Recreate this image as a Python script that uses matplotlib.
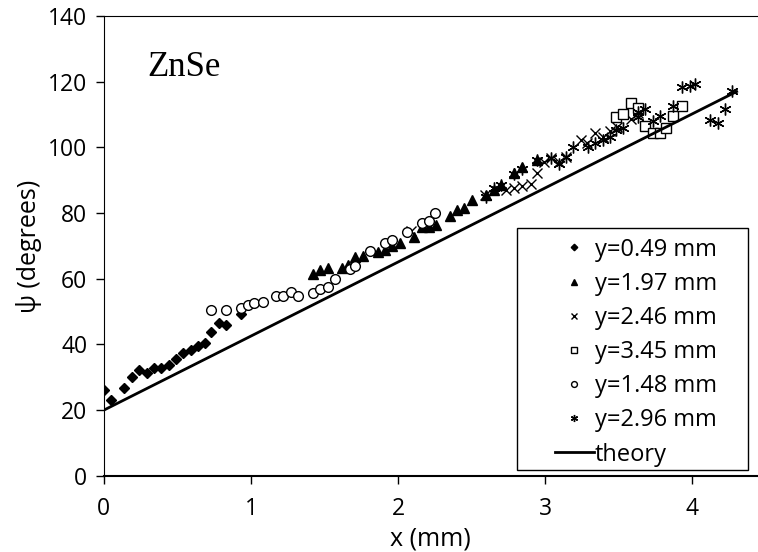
import numpy as np
import matplotlib
matplotlib.use('Agg')
import matplotlib.pyplot as plt
from matplotlib.patches import Rectangle

# Series (x in mm, psi in degrees)
x_049 = [0.00, 0.05, 0.14, 0.19, 0.24, 0.29, 0.34, 0.39, 0.44, 0.49, 0.54, 0.59,
         0.64, 0.69, 0.73, 0.78, 0.83, 0.93]
y_049 = [26.0, 23.0, 26.8, 30.2, 32.3, 31.4, 32.8, 32.8, 33.7, 35.5, 37.3, 38.3,
         39.6, 40.4, 43.9, 46.5, 45.9, 49.3]

x_197 = [1.42, 1.47, 1.52, 1.62, 1.66, 1.71, 1.76, 1.86, 1.91, 1.96, 2.01, 2.11,
         2.16, 2.21, 2.26, 2.35, 2.40, 2.45, 2.50, 2.60, 2.65, 2.70, 2.79, 2.84, 2.94]
y_197 = [61.5, 62.7, 63.2, 63.2, 64.2, 66.7, 66.9, 68.0, 68.8, 70.0, 71.0, 72.8,
         75.9, 75.9, 76.4, 79.1, 81.0, 81.5, 84.0, 85.5, 87.0, 88.6, 92.3, 93.9, 96.3]

x_246 = [2.09, 2.21, 2.59, 2.73, 2.79, 2.84, 2.90, 2.94, 2.99, 3.04, 3.09, 3.14,
         3.24, 3.28, 3.34, 3.39, 3.44, 3.49, 3.58, 3.63]
y_246 = [74.5, 76.5, 85.5, 87.0, 87.6, 88.3, 88.9, 92.3, 95.7, 96.7, 95.7, 97.2,
         102.2, 101.2, 104.3, 103.3, 105.1, 106.3, 108.5, 110.5]

x_345 = [3.48, 3.53, 3.58, 3.63, 3.68, 3.73, 3.78, 3.82, 3.87, 3.93]
y_345 = [109.2, 110.2, 113.6, 111.9, 106.5, 104.3, 104.5, 105.8, 109.6, 112.6]

x_148 = [0.73, 0.83, 0.93, 0.98, 1.02, 1.08, 1.17, 1.22, 1.27, 1.32, 1.42, 1.47,
         1.52, 1.57, 1.67, 1.71, 1.81, 1.91, 1.96, 2.06, 2.16, 2.21, 2.25]
y_148 = [50.5, 50.5, 51.2, 52.0, 52.5, 53.0, 54.8, 54.8, 55.9, 54.6, 55.8, 56.8,
         57.4, 59.9, 62.9, 63.9, 68.5, 70.8, 71.8, 74.3, 76.9, 77.7, 80.1]

x_296 = [2.60, 2.65, 2.70, 2.79, 2.84, 2.94, 3.04, 3.09, 3.14, 3.19, 3.29, 3.34,
         3.39, 3.44, 3.48, 3.53, 3.63, 3.68, 3.63, 3.73, 3.78, 3.87, 3.93, 3.98,
         4.02, 4.12, 4.17, 4.22, 4.27]
y_296 = [85.0, 87.5, 88.6, 91.8, 93.5, 96.3, 96.8, 95.0, 97.0, 100.0, 100.0, 101.2,
         102.2, 103.3, 105.3, 105.8, 110.9, 111.7, 109.2, 108.1, 109.6, 112.7, 118.3,
         118.8, 119.3, 108.3, 107.3, 111.6, 117.3]

theory_x = [0.0, 4.3]
theory_y = [20.0, 117.0]

plt.rcParams['font.family'] = ['Open Sans', 'DejaVu Sans']

fig = plt.figure(figsize=(7.58, 5.52), dpi=100)
ax = fig.add_axes([0.137, 0.138, 0.862, 0.833])

ax.plot(x_049, y_049, linestyle='none', marker='D', markersize=5.5, color='black',
        label='y=0.49 mm')
ax.plot(x_197, y_197, linestyle='none', marker='^', markersize=7, color='black',
        label='y=1.97 mm')
ax.plot(x_246, y_246, linestyle='none', marker='x', markersize=7, color='black',
        markeredgewidth=1, label='y=2.46 mm')
ax.plot(x_345, y_345, linestyle='none', marker='s', markersize=7, color='black',
        markerfacecolor='white', markeredgewidth=1, label='y=3.45 mm')
ax.plot(x_148, y_148, linestyle='none', marker='o', markersize=7, color='black',
        markerfacecolor='white', markeredgewidth=1, label='y=1.48 mm')
ax.plot(x_296, y_296, linestyle='none', marker=(6, 2, 0), markersize=8.5, color='black',
        markeredgewidth=1.0, label='y=2.96 mm')
ax.plot(theory_x, theory_y, color='black', linewidth=2, label='theory')

ax.set_xlim(0, 4.44)
ax.set_ylim(0, 140)
ax.set_xticks([0, 1, 2, 3, 4])
ax.set_yticks(np.arange(0, 141, 20))
ax.tick_params(labelsize=16.5, direction='out', length=6, width=1)
ax.tick_params(axis='x', pad=9)
ax.tick_params(axis='y', pad=6)
ax.spines['right'].set_visible(False)
ax.spines['bottom'].set_linewidth(1.5)
ax.set_xlabel('x (mm)', fontsize=18, labelpad=4)
ax.set_ylabel('ψ (degrees)', fontsize=18, labelpad=4)

ax.text(0.067, 0.889, 'ZnSe', transform=ax.transAxes, fontsize=25,
        family='Liberation Serif', ha='left', va='center')

# legend box drawn separately so it can be wider than its content, as in the source
ax.add_patch(Rectangle((0.632, 0.013), 0.354, 0.526, transform=ax.transAxes,
                       facecolor='white', edgecolor='black', linewidth=1, zorder=5))
leg = ax.legend(loc='upper left', bbox_to_anchor=(0.69, 0.518), fontsize=17,
                frameon=False, markerscale=0.6, handlelength=1.65, borderpad=0,
                labelspacing=0.43, handletextpad=0.05, borderaxespad=0)
leg.set_zorder(6)

fig.savefig('out.png', dpi=100)
